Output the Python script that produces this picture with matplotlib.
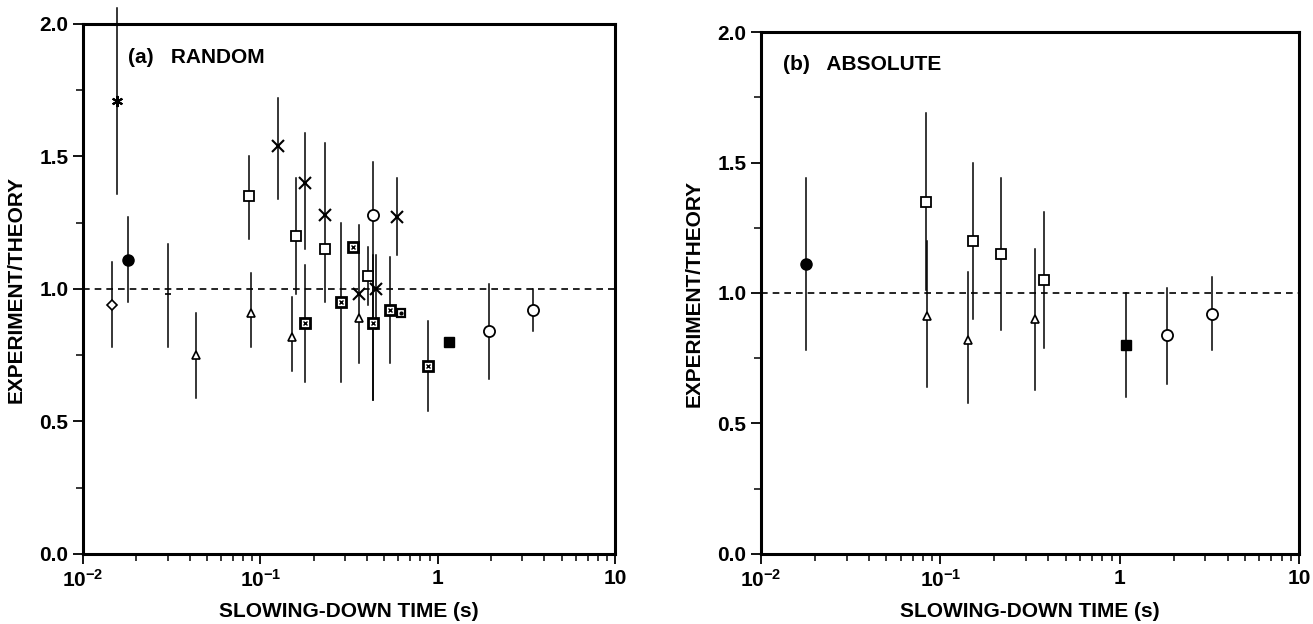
import numpy as np
import matplotlib
matplotlib.use('Agg')
import matplotlib.pyplot as plt
from matplotlib.ticker import FixedLocator, FixedFormatter, MultipleLocator, LogLocator, NullFormatter

plt.rcParams['font.family'] = ['Liberation Sans', 'DejaVu Sans']
plt.rcParams['font.weight'] = 'bold'
plt.rcParams['axes.labelweight'] = 'bold'
plt.rcParams['mathtext.fontset'] = 'custom'
plt.rcParams['mathtext.rm'] = 'Liberation Sans:bold'
plt.rcParams['mathtext.it'] = 'Liberation Sans:bold:italic'
plt.rcParams['mathtext.bf'] = 'Liberation Sans:bold'

nan = np.nan

# (a) random: slowing-down time, ratio, error low/high, data set kind
a_time = [0.0145, 0.0156, 0.0179, 0.030, 0.0434, 0.0863, 0.0883, 0.125, 0.150, 0.159,
          0.179, 0.179, 0.232, 0.231, 0.285, 0.335, 0.361, 0.361, 0.404, 0.430,
          0.433, 0.450, 0.587, 0.540, 0.623, 0.887, 1.16, 1.94, 3.43]
a_ratio = [0.94, 1.71, 1.11, 0.98, 0.75, 1.35, 0.91, 1.54, 0.82, 1.20,
           1.40, 0.87, 1.28, 1.15, 0.95, 1.16, 0.98, 0.89, 1.05, 1.28,
           0.87, 1.00, 1.27, 0.92, 0.91, 0.71, 0.80, 0.84, 0.92]
a_lo = [0.78, 1.36, 0.95, 0.78, 0.59, 1.19, 0.78, 1.34, 0.69, 0.98,
        1.15, 0.65, 0.95, nan, 0.65, nan, 0.72, nan, 0.94, 0.58,
        0.58, 0.85, 1.13, 0.72, nan, 0.54, nan, 0.66, 0.84]
a_hi = [1.10, 2.06, 1.27, 1.17, 0.91, 1.50, 1.06, 1.72, 0.97, 1.42,
        1.59, 1.09, 1.55, nan, 1.25, nan, 1.24, nan, 1.16, 1.48,
        1.13, 1.13, 1.42, 1.12, nan, 0.88, nan, 1.02, 1.00]
a_kind = ['diamond', 'star', 'filled_circle', 'plain', 'triangle', 'square', 'triangle',
          'cross', 'triangle', 'square', 'cross', 'crossed_square', 'cross', 'square',
          'crossed_square', 'crossed_square', 'cross', 'triangle', 'square', 'circle',
          'crossed_square', 'cross', 'cross', 'crossed_square', 'dotted_square',
          'crossed_square', 'filled_square', 'circle', 'circle']

# (b) absolute
b_time = [0.0178, 0.0832, 0.0845, 0.142, 0.152, 0.219, 0.336, 0.378, 1.08, 1.84, 3.27]
b_ratio = [1.11, 1.35, 0.91, 0.82, 1.20, 1.15, 0.90, 1.05, 0.80, 0.84, 0.92]
b_lo = [0.78, 1.01, 0.64, 0.58, 0.90, 0.86, 0.63, 0.79, 0.60, 0.65, 0.78]
b_hi = [1.44, 1.69, 1.20, 1.08, 1.50, 1.44, 1.17, 1.31, 1.00, 1.02, 1.06]
b_kind = ['filled_circle', 'square', 'triangle', 'triangle', 'square', 'square',
          'triangle', 'square', 'filled_square', 'circle', 'circle']

x_ticks = [0.01, 0.1, 1, 10]
x_labels = ['$10^{-2}$', '$10^{-1}$', '1', '10']

styles = {
    'square': dict(marker='s', ms=7, mfc='white', mec='k', mew=1.3),
    'triangle': dict(marker='^', ms=6, mfc='white', mec='k', mew=1.2),
    'circle': dict(marker='o', ms=8, mfc='white', mec='k', mew=1.3),
    'filled_circle': dict(marker='o', ms=8, mfc='k', mec='k'),
    'filled_square': dict(marker='s', ms=7, mfc='k', mec='k'),
    'cross': dict(marker='x', ms=8, mec='k', mew=1.5),
    'star': dict(marker=(6, 2, 0), ms=8, mec='k', mew=1.5),
    'diamond': dict(marker='D', ms=5, mfc='white', mec='k', mew=1.2),
    'plain': dict(marker='_', ms=5, mec='k', mew=1.2),
    'crossed_square': dict(marker='s', ms=7, mfc='white', mec='k', mew=2.0),
    'dotted_square': dict(marker='s', ms=6, mfc='white', mec='k', mew=1.6),
}


def draw_panel(ax, t, r, lo, hi, kind, title, tx):
    for ti, ri, l, h, k in zip(t, r, lo, hi, kind):
        if not np.isnan(l):
            ax.plot([ti, ti], [l, h], color='k', lw=1.1, clip_on=False, zorder=2)
        ax.plot([ti], [ri], ls='none', zorder=3, **styles[k])
        if k == 'crossed_square':
            ax.plot([ti], [ri], ls='none', marker='x', ms=3.5, mec='k', mew=1.0, zorder=4)
        if k == 'dotted_square':
            ax.plot([ti], [ri], ls='none', marker='o', ms=2, mfc='k', mec='k', zorder=4)
    ax.axhline(1.0, color='k', ls=(0, (4, 3)), lw=1.2, zorder=1)
    ax.set_xscale('log')
    ax.set_xlim(0.01, 10)
    ax.set_ylim(0, 2)
    ax.xaxis.set_major_locator(FixedLocator(x_ticks))
    ax.xaxis.set_major_formatter(FixedFormatter(x_labels))
    ax.xaxis.set_minor_locator(LogLocator(base=10, subs=np.arange(2, 10)))
    ax.xaxis.set_minor_formatter(NullFormatter())
    ax.yaxis.set_major_locator(MultipleLocator(0.5))
    ax.yaxis.set_minor_locator(MultipleLocator(0.25))
    ax.yaxis.set_major_formatter(plt.FormatStrFormatter('%.1f'))
    ax.tick_params(which='major', direction='out', length=7, width=1.3, labelsize=15)
    ax.tick_params(which='minor', direction='out', length=5, width=1.1)
    for s in ax.spines.values():
        s.set_linewidth(2.2)
    ax.set_xlabel('SLOWING-DOWN TIME (s)', fontsize=15, labelpad=8)
    ax.set_ylabel('EXPERIMENT/THEORY', fontsize=15, labelpad=10)
    ax.text(tx, 0.937, title, transform=ax.transAxes, fontsize=15, va='center', ha='left')


fig = plt.figure(figsize=(13.13, 6.24), dpi=100)
ax1 = fig.add_axes([0.0632, 0.1122, 0.4052, 0.8494])
ax2 = fig.add_axes([0.5796, 0.1122, 0.4098, 0.8365])

draw_panel(ax1, a_time, a_ratio, a_lo, a_hi, a_kind, '(a)   RANDOM', 0.085)
draw_panel(ax2, b_time, b_ratio, b_lo, b_hi, b_kind, '(b)   ABSOLUTE', 0.04)

fig.savefig('out.png', dpi=100)
